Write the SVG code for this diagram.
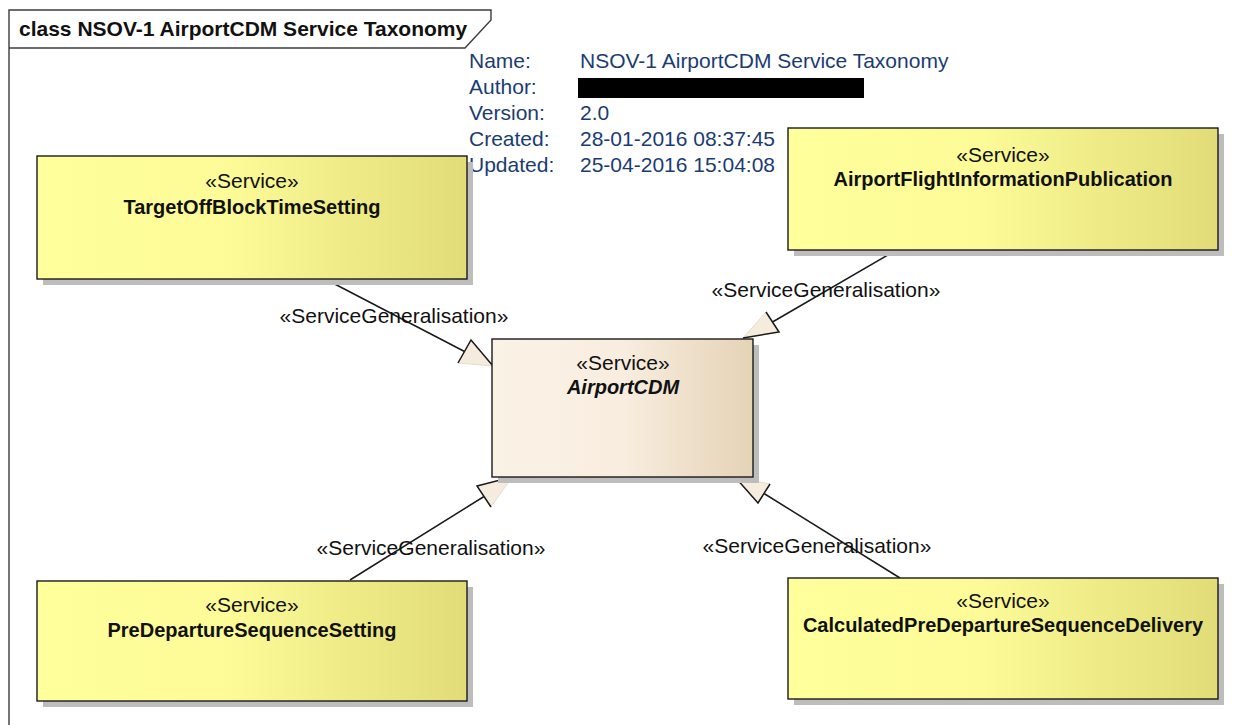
<svg xmlns="http://www.w3.org/2000/svg" width="1236" height="725" viewBox="0 0 1236 725">
  <defs>
    <linearGradient id="gradYellow" x1="0" y1="0" x2="1" y2="0">
      <stop offset="0" stop-color="#FFFF9C"/>
      <stop offset="0.45" stop-color="#FCFB97"/>
      <stop offset="1" stop-color="#E1DC78"/>
    </linearGradient>
    <linearGradient id="gradBeige" x1="0" y1="0" x2="1" y2="0">
      <stop offset="0" stop-color="#FBF2E6"/>
      <stop offset="0.5" stop-color="#F8EDDF"/>
      <stop offset="1" stop-color="#E5D3B6"/>
    </linearGradient>
  </defs>
  <style>
    .shadow { fill: #BDBDBD; }
    .box { stroke: #1A1A1A; stroke-width: 1.4; }
    .yellow { fill: url(#gradYellow); }
    .beige { fill: url(#gradBeige); }
    .stereo { font-family: "Liberation Sans", Arial, sans-serif; font-size: 21px; fill: #111; text-anchor: middle; }
    .name { font-family: "Liberation Sans", Arial, sans-serif; font-size: 20px; font-weight: bold; fill: #111; text-anchor: middle; }
    .abstract { font-style: italic; }
    .frame { fill: none; stroke: #3C3C3C; stroke-width: 1.4; }
    .title { font-family: "Liberation Sans", Arial, sans-serif; font-size: 21px; font-weight: bold; fill: #111; }
    .info { font-family: "Liberation Sans", Arial, sans-serif; font-size: 21px; fill: #1B3C73; }
    .edge { fill: none; stroke: #1A1A1A; stroke-width: 1.5; }
    .head { fill: #F6ECDE; stroke: #E6DCCD; stroke-width: 1; }
    .headline { fill: none; stroke: #1A1A1A; stroke-width: 1.5; stroke-linejoin: miter; }
    .label { font-family: "Liberation Sans", Arial, sans-serif; font-size: 21px; fill: #111; text-anchor: middle; }
  </style>

  <rect width="1236" height="725" fill="#FFFFFF"/>

  <!-- diagram frame and title tab -->
  <g id="frame">
    <path class="frame" d="M9,725 V10 H491 V20 L465,48 H9"/>
    <text class="title" x="19" y="36">class NSOV-1 AirportCDM Service Taxonomy</text>
  </g>

  <!-- diagram properties -->
  <g id="properties">
    <text class="info" x="469" y="68">Name:</text>
    <text class="info" x="469" y="94">Author:</text>
    <text class="info" x="469" y="120">Version:</text>
    <text class="info" x="469" y="146">Created:</text>
    <text class="info" x="469" y="172">Updated:</text>
    <text class="info" x="580" y="68">NSOV-1 AirportCDM Service Taxonomy</text>
    <rect x="578" y="78" width="286" height="20" fill="#000000"/>
    <text class="info" x="580" y="120">2.0</text>
    <text class="info" x="580" y="146">28-01-2016 08:37:45</text>
    <text class="info" x="580" y="172">25-04-2016 15:04:08</text>
  </g>

  <!-- generalisation connectors -->
  <g id="connectors">
    <line class="edge" x1="327" y1="280" x2="464.5" y2="351.5"/>
    <polygon class="head" points="493,366 471,340 458,363"/>
    <polyline class="headline" points="458,363 471,340 493,366"/>

    <line class="edge" x1="893" y1="252" x2="772.5" y2="322"/>
    <polygon class="head" points="743,338 766,312 779,332"/>
    <polyline class="headline" points="766,312 779,332 743,338"/>

    <line class="edge" x1="350" y1="580" x2="484" y2="496.5"/>
    <polygon class="head" points="512,477 477,486 491,507"/>
    <polyline class="headline" points="491,507 477,486 512,477"/>

    <line class="edge" x1="900" y1="578" x2="764" y2="493.5"/>
    <polygon class="head" points="735,477 758,503 770,484"/>
    <polyline class="headline" points="735,477 758,503 770,484"/>

    <text class="label" x="394" y="323">«ServiceGeneralisation»</text>
    <text class="label" x="826" y="297">«ServiceGeneralisation»</text>
    <text class="label" x="431" y="555">«ServiceGeneralisation»</text>
    <text class="label" x="817" y="553">«ServiceGeneralisation»</text>
  </g>

  <!-- service nodes -->
  <g id="TargetOffBlockTimeSetting">
    <rect class="shadow" x="43" y="162" width="430" height="123"/>
    <rect class="box yellow" x="37" y="156" width="430" height="123"/>
    <text class="stereo" x="252" y="188">«Service»</text>
    <text class="name" x="252" y="214">TargetOffBlockTimeSetting</text>
  </g>

  <g id="AirportFlightInformationPublication">
    <rect class="shadow" x="794" y="134" width="430" height="122"/>
    <rect class="box yellow" x="788" y="128" width="430" height="122"/>
    <text class="stereo" x="1003" y="162">«Service»</text>
    <text class="name" x="1003" y="186">AirportFlightInformationPublication</text>
  </g>

  <g id="AirportCDM">
    <rect class="shadow" x="498" y="345" width="261" height="138"/>
    <rect class="box beige" x="492" y="339" width="261" height="138"/>
    <text class="stereo" x="623" y="370">«Service»</text>
    <text class="name abstract" x="623" y="394">AirportCDM</text>
  </g>

  <g id="PreDepartureSequenceSetting">
    <rect class="shadow" x="43" y="587" width="430" height="120"/>
    <rect class="box yellow" x="37" y="581" width="430" height="120"/>
    <text class="stereo" x="252" y="612">«Service»</text>
    <text class="name" x="252" y="637">PreDepartureSequenceSetting</text>
  </g>

  <g id="CalculatedPreDepartureSequenceDelivery">
    <rect class="shadow" x="794" y="584" width="430" height="121"/>
    <rect class="box yellow" x="788" y="578" width="430" height="121"/>
    <text class="stereo" x="1003" y="608">«Service»</text>
    <text class="name" x="1003" y="632">CalculatedPreDepartureSequenceDelivery</text>
  </g>
</svg>
